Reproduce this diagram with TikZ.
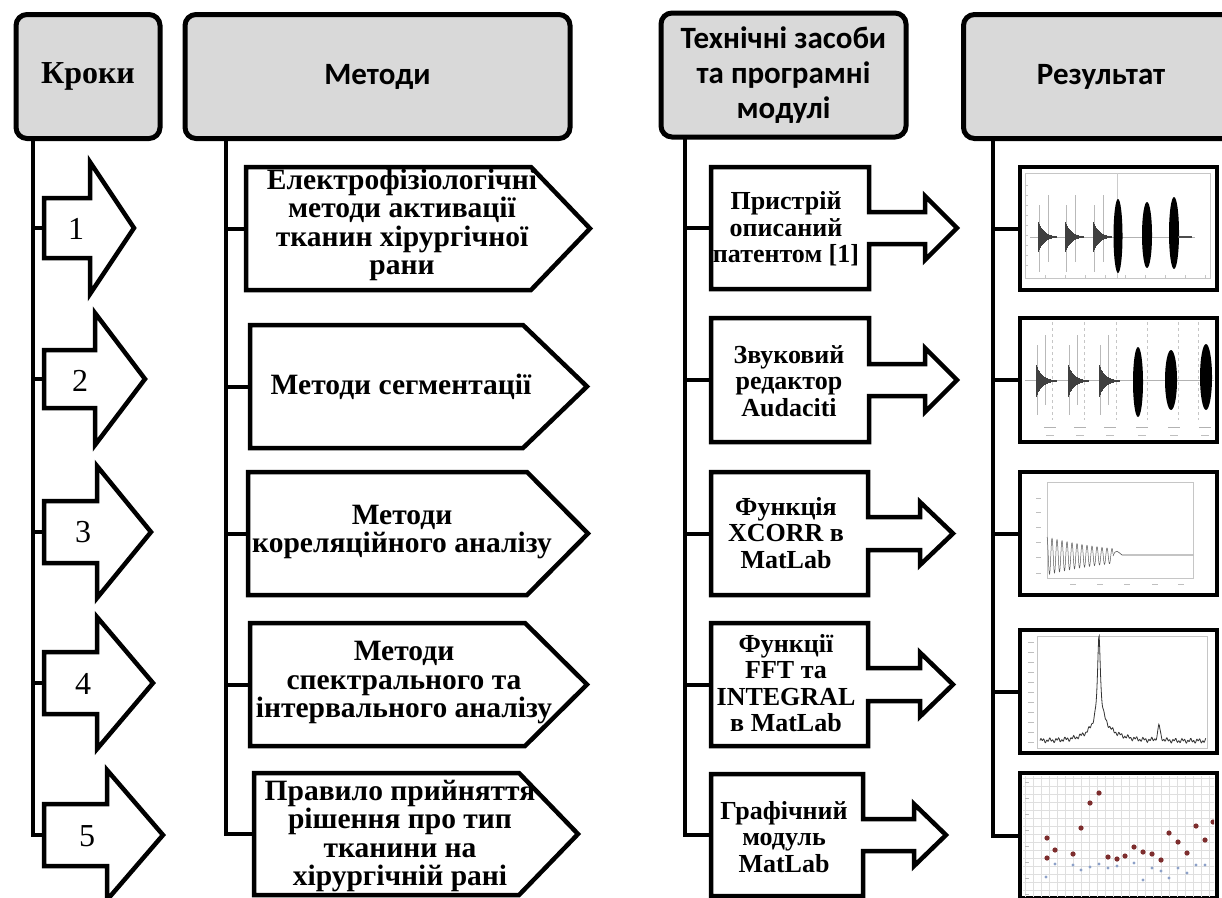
\documentclass[tikz,border=0pt]{standalone}
\usepackage{fontspec}
\setmainfont{Liberation Serif}
\newfontfamily\hdrfont{Carlito}
\definecolor{hdrgray}{RGB}{217,217,217}
\definecolor{dotred}{RGB}{125,45,45}
\definecolor{dotblue}{RGB}{140,160,200}

% block arrow: name, x0, yc, head base, tip, half shaft, half head
\newcommand{\blockarrow}[7]{%
  \draw[shp] (#2,{#3-#6}) -- (#4,{#3-#6}) -- (#4,{#3-#7}) -- (#5,#3) -- (#4,{#3+#7}) -- (#4,{#3+#6}) -- (#2,{#3+#6}) -- cycle;
  \coordinate (#1) at (#2,#3);}
% pentagon: name, left, top, bottom, body right, tip
\newcommand{\pentbox}[6]{%
  \draw[shp] (#2,#3) -- (#5,#3) -- (#6,{(#3+#4)/2}) -- (#5,#4) -- (#2,#4) -- cycle;
  \coordinate (#1) at (#2,{(#3+#4)/2});}
% callout: name, left, right, top, bottom, half shaft, head base, half head, tip
\newcommand{\toolbox}[9]{%
  \draw[shp] (#2,#4) -- (#3,#4) -- (#3,{(#4+#5)/2-#6}) -- (#7,{(#4+#5)/2-#6}) -- (#7,{(#4+#5)/2-#8}) -- (#9,{(#4+#5)/2}) -- (#7,{(#4+#5)/2+#8}) -- (#7,{(#4+#5)/2+#6}) -- (#3,{(#4+#5)/2+#6}) -- (#3,#5) -- (#2,#5) -- cycle;
  \coordinate (#1) at (#2,{(#4+#5)/2});}
% result box: name, top, bottom
\newcommand{\resbox}[3]{%
  \draw[shp] (1020,#2) rectangle (1217,#3);
  \coordinate (#1) at (1020,{(#2+#3)/2});}

\begin{document}
\begin{tikzpicture}[x=1pt,y=-1pt,
  hdrbox/.style={draw, line width=5pt, rounded corners=11pt, fill=hdrgray, inner sep=0pt, align=center},
  shp/.style={draw, line width=4.5pt, fill=white, line join=miter, miter limit=10},
  conn/.style={line width=4pt},
  mtxt/.style={align=center, font=\fontsize{29.5}{28.5}\selectfont\bfseries, inner sep=0pt},
  ttxt/.style={align=center, font=\fontsize{26}{26.5}\selectfont\bfseries, inner sep=0pt},
  ntxt/.style={font=\fontsize{32}{32}\selectfont, inner sep=0pt},
  htxt/.style={font=\hdrfont\fontsize{31}{35}\selectfont\bfseries},
  faint/.style={gray!45, line width=0.6pt},
]
\useasboundingbox (0,0) rectangle (1222,897);
\clip (0,0) rectangle (1222,897);

% ---------- headers ----------
\node[hdrbox, minimum width=144pt, minimum height=124pt, font=\fontsize{32}{32}\selectfont\bfseries] (hK) at (88,76.5) {Кроки};
\node[hdrbox, htxt, minimum width=385pt, minimum height=124pt] (hM) at (377.5,76.5) {Методи};
\node[hdrbox, htxt, minimum width=245pt, minimum height=124pt] (hT) at (783.5,75) {Технічні засоби\\та програмні\\модулі};
\node[hdrbox, htxt, minimum width=275pt, minimum height=124pt] (hR) at (1101,76.5) {Результат};

% ---------- step arrows ----------
\blockarrow{a1}{44}{228}{90}{134}{30}{66}
\blockarrow{a2}{44}{379}{95}{145}{29}{66}
\blockarrow{a3}{44}{532}{97}{151}{31}{66}
\blockarrow{a4}{44}{683}{97}{153}{31}{66}
\blockarrow{a5}{44}{835}{107}{163}{31}{65}
\node[ntxt] (n1) at (76,229) {1};
\node[ntxt] (n2) at (80,381) {2};
\node[ntxt] (n3) at (83,532) {3};
\node[ntxt] (n4) at (83,684) {4};
\node[ntxt] (n5) at (87,836) {5};

% ---------- method pentagons ----------
\pentbox{p1}{246}{167}{290}{531}{590}
\pentbox{p2}{250}{325}{448}{523}{587}
\pentbox{p3}{248}{472}{595}{527}{588}
\pentbox{p4}{250}{623}{746}{525}{587}
\pentbox{p5}{254}{773}{895}{519}{578}
\node[mtxt] (m1) at (402,225) {Електрофізіологічні\\методи активації\\тканин хірургічної\\рани};
\node[mtxt] (m2) at (401,387) {Методи сегментації};
\node[mtxt] (m3) at (402,532) {Методи\\кореляційного аналізу};
\node[mtxt] (m4) at (404,683) {Методи\\спектрального та\\інтервального аналізу};
\node[mtxt] (m5) at (400,836) {Правило прийняття\\рішення про тип\\тканини на\\хірургічній рані};

% ---------- tool callouts ----------
\toolbox{t1}{711}{869}{167}{289}{16}{925}{32}{957}
\toolbox{t2}{711}{869}{318}{442}{16}{925}{32}{957}
\toolbox{t3}{711}{868}{472}{595}{16.5}{920}{31.5}{953}
\toolbox{t4}{711}{868}{623}{746}{16.5}{920}{32}{953}
\toolbox{t5}{711}{863}{774}{896}{16}{914}{31}{946}
\node[ttxt] (x1) at (786,229) {Пристрій\\описаний\\патентом [1]};
\node[ttxt] (x2) at (789,381) {Звуковий\\редактор\\Audaciti};
\node[ttxt] (x3) at (786,533) {Функція\\XCORR в\\MatLab};
\node[ttxt] (x4) at (786,683) {Функції\\FFT та\\INTEGRAL\\в MatLab};
\node[ttxt] (x5) at (784,837) {Графічний\\модуль\\MatLab};

% ---------- result boxes ----------
\resbox{r1}{167}{290}
\resbox{r2}{318}{442}
\resbox{r3}{472}{595}
\resbox{r4}{630}{753}
\resbox{r5}{773}{898}

% result 1: waveform
\begin{scope}
\clip (1023,170) rectangle (1214,287);
\draw[faint] (1025,173) rectangle (1210,278);
\foreach \y in {185,195,...,270} \draw[faint] (1025,\y) -- (1028,\y);
\foreach \x in {1045,1065,...,1205} \draw[faint] (\x,278) -- (\x,275);
\draw[gray!60, line width=0.8pt] (1030,237) -- (1195,237);
\draw[gray!40, line width=0.6pt] (1117,173) -- (1117,278);
\foreach \c in {1038,1065,1093}{
  \draw[gray!55, line width=0.6pt] (\c+1,205) -- (\c+1,272);
  \draw[gray!55, line width=0.6pt] (\c+10,195) -- (\c+10,262);
  \foreach \i in {0,...,18}
    \draw[black!75, line width=1pt] ({\c+\i},{237-15*exp(-\i/6)}) -- ({\c+\i},{237+15*exp(-\i/6)});
}
\fill[black] (1118,236) ellipse [x radius=4.5, y radius=37];
\fill[black] (1147,235) ellipse [x radius=5, y radius=33];
\fill[black] (1174,233) ellipse [x radius=5, y radius=36];
\draw[black!70, line width=1.2pt] (1178,237) -- (1192,237);
\end{scope}

% result 2: waveform with grid
\begin{scope}
\clip (1023,321) rectangle (1214,439);
\foreach \x in {1052,1084,1116,1147,1178,1198}
  \draw[gray!45, dashed, line width=0.5pt] (\x,322) -- (\x,420);
\foreach \x in {1050,1080,1110,1142,1174,1205}{
  \draw[gray!60, line width=1pt] (\x-6,427) -- (\x+6,427);
  \draw[gray!50, line width=1pt] (\x-4,435) -- (\x+4,435);}
\draw[gray!60, line width=0.8pt] (1025,380) -- (1215,380);
\foreach \c in {1036,1068,1099}{
  \draw[gray!55, line width=0.6pt] (\c+1,345) -- (\c+1,415);
  \draw[gray!55, line width=0.6pt] (\c+9,335) -- (\c+9,405);
  \foreach \i in {0,...,20}
    \draw[black!75, line width=1pt] ({\c+\i},{381-16*exp(-\i/6)}) -- ({\c+\i},{381+16*exp(-\i/6)});
}
\fill[black] (1138,382) ellipse [x radius=5, y radius=35];
\fill[black] (1171,380) ellipse [x radius=6, y radius=30];
\fill[black] (1206,377) ellipse [x radius=6, y radius=33];
\end{scope}

% result 3: correlation
\begin{scope}
\clip (1023,475) rectangle (1214,592);
\draw[faint] (1047,482) rectangle (1193,578);
\foreach \y in {498,512,527,542,557,573} \draw[gray!50, line width=1pt] (1036,\y) -- (1041,\y);
\foreach \x in {1073,1100,1127,1155,1181} \draw[gray!50, line width=1pt] (\x-3,584) -- (\x+3,584);
\draw[gray!70!black, line width=0.5pt] plot[domain=0:66, samples=330] ({1047+\x},{556-19*exp(-\x/70)*cos(\x*72)});
\draw[gray!70!black, line width=0.6pt] (1113,556) .. controls (1116,548) and (1118,552) .. (1122,555) -- (1193,555);
\end{scope}

% result 4: spectrum
\begin{scope}
\clip (1023,633) rectangle (1214,750);
\draw[faint] (1037,636) rectangle (1207,748);
\foreach \y in {642,652,...,742} \draw[gray!50, line width=1pt] (1028,\y) -- (1034,\y);
\draw[black!80, line width=0.8pt] plot[domain=0:166, samples=332]
  ({1040+\x},{741 - 2.5*sin(\x*83)*cos(\x*37) - 86/(1+((\x-59)/1.6)^2) - 18/(1+((\x-60)/9)^2) - 4*exp(-((\x-65)/25)^2) - 16/(1+((\x-119)/1.3)^2)});
\end{scope}

% result 5: scatter with grid
\begin{scope}
\clip (1023,776) rectangle (1214,897);
\foreach \x in {1025,1033,...,1217} \draw[gray!25, line width=0.5pt] (\x,775) -- (\x,897);
\foreach \y in {778,786,...,897} \draw[gray!25, line width=0.5pt] (1023,\y) -- (1217,\y);
\foreach \y in {782,798,...,894} \draw[gray!55, line width=0.8pt] (1025,\y) -- (1029,\y);
\foreach \p in {(1047,838),(1055,850),(1047,858),(1081,828),(1090,803),(1099,793),(1073,854),(1108,857),(1117,859),(1125,856),(1134,847),(1143,852),(1152,854),(1161,860),(1169,833),(1178,842),(1187,853),(1196,826),(1205,840),(1213,822)}
  \fill[dotred] \p circle [radius=2.6];
\foreach \p in {(1046,877),(1055,864),(1073,865),(1081,870),(1090,867),(1099,864),(1108,868),(1117,866),(1134,863),(1143,880),(1152,868),(1161,871),(1169,878),(1178,868),(1187,873),(1196,865),(1205,865)}
  \fill[dotblue] \p circle [radius=1.6];
\end{scope}

% ---------- connectors ----------
\coordinate (kT) at (33,139);
\coordinate (mT) at (226,139);
\coordinate (tT) at (685,139);
\coordinate (rT) at (993,139);
\draw[conn] (kT) |- (a5);
\draw[conn] (mT) |- (p5);
\draw[conn] (tT) |- (t5);
\draw[conn] (rT) |- (r5);
\foreach \i in {1,2,3,4}{
  \draw[conn] (a\i -| kT) -- (a\i);
  \draw[conn] (p\i -| mT) -- (p\i);
  \draw[conn] (t\i -| tT) -- (t\i);
  \draw[conn] (r\i -| rT) -- (r\i);
}
\end{tikzpicture}
\end{document}
